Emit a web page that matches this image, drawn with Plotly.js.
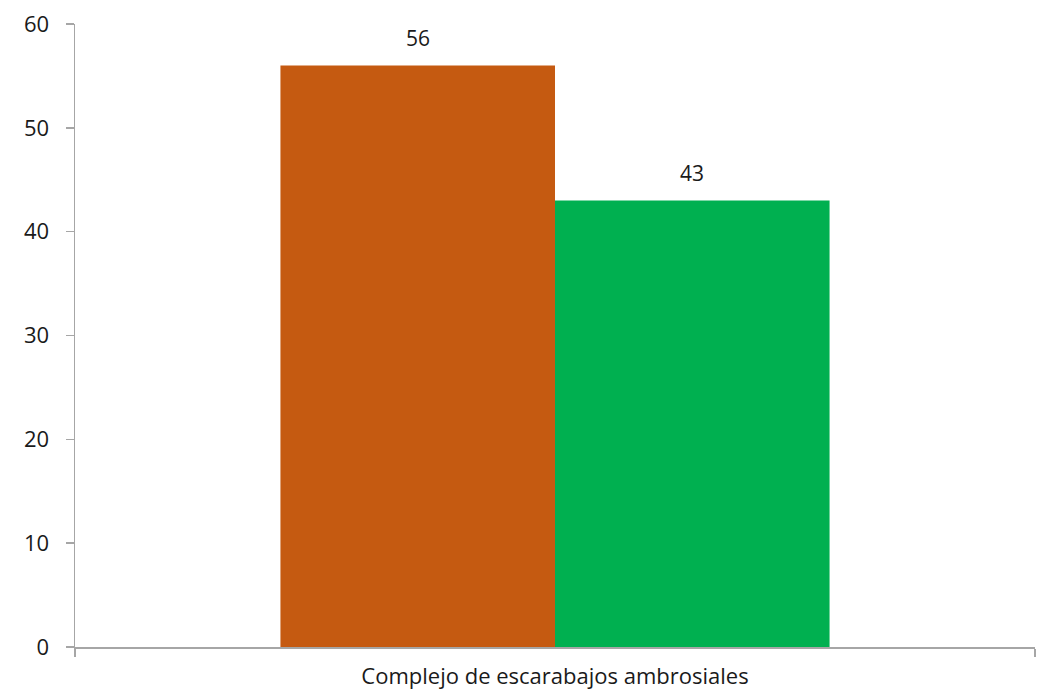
<!DOCTYPE html>
<html>
<head>
<meta charset="utf-8">
<script src="https://cdn.plot.ly/plotly-3.0.1.min.js"></script>
<style>html,body{margin:0;padding:0;background:#fff;}#chart{width:1049px;height:693px;}</style>
</head>
<body>
<div id="chart"></div>
<script>
const categories = ["Complejo de escarabajos ambrosiales"];
const seriesA = [56];
const seriesB = [43];
const seriesColors = ["#C55A11", "#00B050"];
const yTicks = [0, 10, 20, 30, 40, 50, 60];

const font = "Open Sans, Liberation Sans, sans-serif";
const txtColor = "#1a1a1a";
const traces = [seriesA, seriesB].map((vals, i) => ({
  type: "bar",
  x: categories,
  y: vals,
  marker: {color: seriesColors[i], line: {width: 0}},
  hoverinfo: "none"
}));

const annotations = [];
[seriesA, seriesB].forEach((vals, i) => {
  vals.forEach((v, j) => {
    annotations.push({
      x: categories[j], y: v, xref: "x", yref: "y",
      xshift: (i === 0 ? -1 : 1) * 137,
      yshift: 12, yanchor: "bottom", showarrow: false,
      text: String(v), font: {family: font, size: 21, color: txtColor}
    });
  });
});

const layout = {
  width: 1049, height: 693,
  margin: {l: 75, r: 14, t: 24, b: 46, pad: 0},
  paper_bgcolor: "#fff", plot_bgcolor: "#fff",
  barmode: "group", bargap: 0.428, bargroupgap: 0,
  showlegend: false,
  font: {family: font, size: 21, color: txtColor},
  xaxis: {
    type: "category", range: [-0.5, 0.5],
    showline: true, linecolor: "#A6A6A6", linewidth: 1.5,
    ticks: "outside", ticklen: 8, tickcolor: "#A6A6A6", tickwidth: 1.5,
    tickson: "boundaries", showgrid: false, zeroline: false,
    ticklabelstandoff: 9,
    tickfont: {family: font, size: 22, color: txtColor}
  },
  yaxis: {
    range: [0, 60], tickvals: yTicks, ticktext: yTicks.map(String),
    showline: true, linecolor: "#A6A6A6", linewidth: 1.5,
    ticks: "outside", ticklen: 8, tickcolor: "#A6A6A6", tickwidth: 1.5,
    showgrid: false, zeroline: false,
    ticklabelstandoff: 12,
    tickfont: {family: font, size: 22, color: txtColor}
  },
  annotations: annotations
};

Plotly.newPlot("chart", traces, layout, {displayModeBar: false, staticPlot: true});
</script>
</body>
</html>
